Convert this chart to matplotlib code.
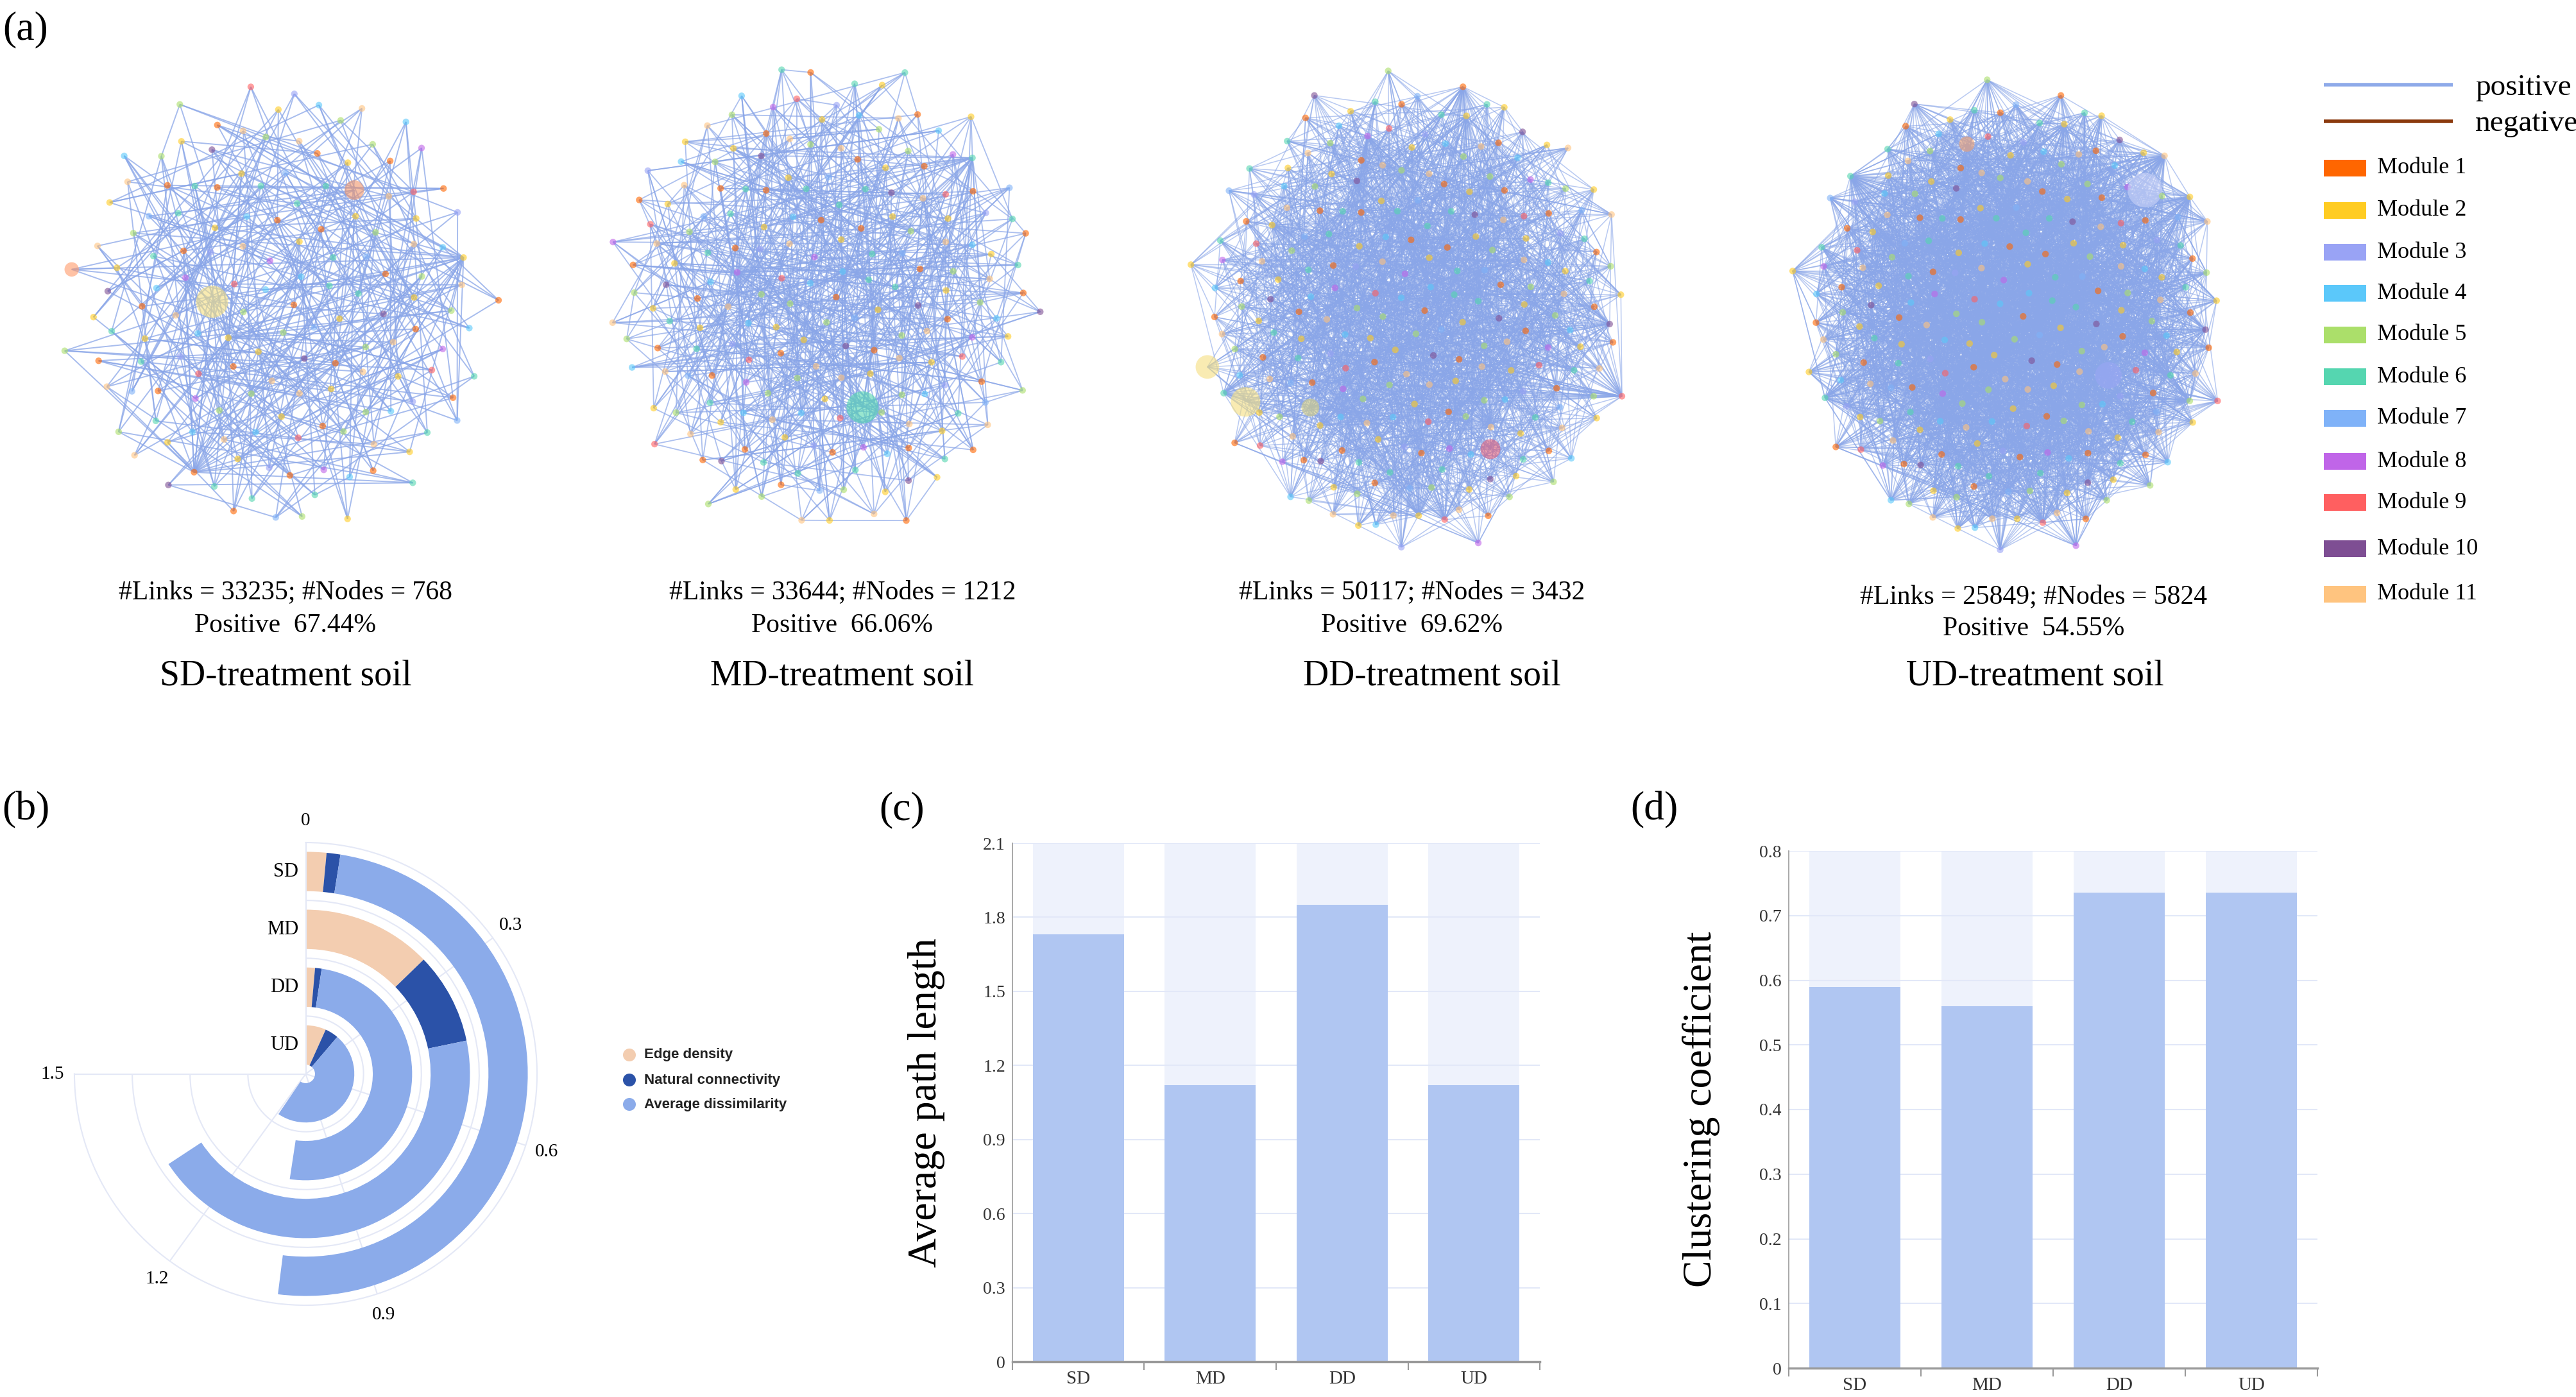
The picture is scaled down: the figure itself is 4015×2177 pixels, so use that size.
import numpy as np
import matplotlib.pyplot as plt
from matplotlib.collections import LineCollection
from matplotlib.patches import Rectangle, Circle

W, H = 4016, 2177
plt.rcParams['font.family'] = ['Liberation Serif', 'DejaVu Serif']

# ---- data ----
treatments = ['SD', 'MD', 'DD', 'UD']
n_links = [33235, 33644, 50117, 25849]
n_nodes = [768, 1212, 3432, 5824]
positive_pct = [67.44, 66.06, 69.62, 54.55]

edge_density = [0.03, 0.255, 0.028, 0.135]
natural_conn = [0.02, 0.18, 0.02, 0.09]
avg_dissim = [0.99, 0.88, 1.0, 0.965]
theta_ticks = [0, 0.3, 0.6, 0.9, 1.2, 1.5]

path_length = [1.73, 1.12, 1.85, 1.12]
path_ticks = [0, 0.3, 0.6, 0.9, 1.2, 1.5, 1.8, 2.1]
clustering = [0.59, 0.56, 0.735, 0.735]
clust_ticks = [0, 0.1, 0.2, 0.3, 0.4, 0.5, 0.6, 0.7, 0.8]

module_names = ['Module %d' % k for k in range(1, 12)]
module_colors = ['#ff6600', '#ffcc22', '#99a3f5', '#5bc8fa', '#abdf6a', '#55d6b0',
                 '#7fb2f8', '#c065e8', '#ff5f60', '#7e4e93', '#ffc47f']
# order in which node colours repeat (mostly the lighter modules)
node_cycle = [0, 1, 10, 5, 4, 1, 0, 3, 5, 10, 2, 6, 1, 0, 4, 8, 5, 10, 7, 1, 0, 3, 9, 4]

EDGE = '#8aa6e8'
fig = plt.figure(figsize=(W / 100, H / 100), dpi=100)
fig.patch.set_facecolor('white')


def px_axes(x0, y0, x1, y1, **kw):
    return fig.add_axes([x0 / W, 1 - y1 / H, (x1 - x0) / W, (y1 - y0) / H], **kw)


# overlay for free text and legends, in pixel coordinates
ov = px_axes(0, 0, W, H)
ov.set_xlim(0, W)
ov.set_ylim(H, 0)
ov.axis('off')

# ---- (a) networks: decorative layout, deterministic ----
net_boxes = [(438, 475, 346, 373), (1285, 463, 356, 382),
             (2204, 484, 355, 386), (3137, 493, 350, 381)]
net_style = [
    dict(n=150, mults=[(37, 5), (61, 11)], hubs=[(12, 7, 22), (96, 13, 18), (131, 9, 16)],
         lw=1.4, alpha=0.75, big=[(17, 1300, '#f5df80'), (58, 480, '#f0956a'), (140, 260, '#ff9a6a')]),
    dict(n=190, mults=[(37, 5), (61, 11), (89, 3)], hubs=[(30, 11, 20), (160, 7, 20)],
         lw=1.3, alpha=0.7, big=[(44, 1300, '#55d6b0')]),
    dict(n=230, mults=[(37, 5), (61, 11), (89, 3), (23, 17), (101, 29), (53, 2), (71, 19)],
         hubs=[(210, 9, 30), (180, 13, 30), (150, 7, 30), (225, 17, 30)],
         lw=1.1, alpha=0.6, big=[(190, 1100, '#f5df80'), (203, 700, '#f5df80'),
                                 (120, 500, '#e0607a'), (88, 400, '#d8d080')]),
    dict(n=230, mults=[(37, 5), (61, 11), (89, 3), (23, 17), (101, 29), (53, 2), (71, 19),
                       (43, 7), (67, 13), (97, 23), (29, 31), (83, 37)],
         hubs=[(200, 9, 40), (215, 13, 40), (170, 7, 40), (228, 11, 40)],
         lw=1.1, alpha=0.6, big=[(160, 1500, '#c9d2f8'), (60, 900, '#9aa6f5'), (150, 300, '#f0a070')]),
]

ga = np.pi * (3 - np.sqrt(5))
for (cx, cy, rx, ry), st in zip(net_boxes, net_style):
    ax = px_axes(cx - rx, cy - ry, cx + rx, cy + ry)
    n = st['n']
    i = np.arange(n)
    r = np.sqrt((i + 0.5) / n) * (0.95 + 0.05 * np.cos(i * 1.7))
    th = i * ga
    x, y = r * np.cos(th), r * np.sin(th)
    segs = []
    for a, b in st['mults']:
        j = (a * i + b) % n
        for p, q in zip(i, j):
            if p != q:
                segs.append([(x[p], y[p]), (x[q], y[q])])
    for h, step, deg in st['hubs']:
        for k in range(1, deg + 1):
            q = (h + k * step) % n
            segs.append([(x[h], y[h]), (x[q], y[q])])
    ax.add_collection(LineCollection(segs, colors=EDGE, linewidths=st['lw'], alpha=st['alpha']))
    cols = [module_colors[node_cycle[(k * 7) % len(node_cycle)]] for k in i]
    sizes = np.full(n, 55.0)
    for idx, s, c in st['big']:
        sizes[idx] = s
        cols[idx] = c
    ax.scatter(x, y, s=sizes, c=cols, alpha=0.6, edgecolors='none', zorder=3, clip_on=False)
    ax.set_xlim(-1.0, 1.0)
    ax.set_ylim(-1.0, 1.0)
    ax.axis('off')

caption_x = [445, 1313, 2201, 3170]
caption_y = [(923, 975), (923, 975), (923, 975), (930, 980)]
title_x = [445, 1313, 2232, 3172]
for k, t in enumerate(treatments):
    ov.text(caption_x[k], caption_y[k][0], '#Links = %d; #Nodes = %d' % (n_links[k], n_nodes[k]),
            fontsize=30, ha='center', va='center')
    ov.text(caption_x[k], caption_y[k][1], 'Positive  %.2f%%' % positive_pct[k],
            fontsize=30, ha='center', va='center')
    ov.text(title_x[k], 1053, '%s-treatment soil' % t, fontsize=40, ha='center', va='center')

# legend for (a)
ov.plot([3622, 3823], [132, 132], color='#8eaae9', lw=4, solid_capstyle='butt')
ov.plot([3622, 3823], [189, 189], color='#8b3a0e', lw=4, solid_capstyle='butt')
ov.text(3858, 137, 'positive', fontsize=34, va='center', ha='left')
ov.text(3858, 193, 'negative', fontsize=34, va='center', ha='left')
module_y = [262, 328, 393, 457, 522, 587, 652, 719, 783, 855, 926]
for yy, name, col in zip(module_y, module_names, module_colors):
    ov.add_patch(Rectangle((3622, yy - 13), 66, 26, color=col, lw=0))
    ov.text(3705, yy, name, fontsize=26, va='center', ha='left')

# panel labels
for lab, (lx, ly) in zip(['(a)', '(b)', '(c)', '(d)'],
                         [(40, 46), (40, 1262), (1406, 1262), (2578, 1262)]):
    ov.text(lx, ly, lab, fontsize=46, ha='center', va='center')

# ---- (b) radial stacked bar ----
pc, pr = (480, 1677), 364
axp = px_axes(pc[0] - pr, pc[1] - pr, pc[0] + pr, pc[1] + pr, projection='polar')
axp.set_theta_zero_location('N')
axp.set_theta_direction(-1)
axp.set_thetalim(0, 1.5 * np.pi)
axp.set_rlim(0, 4)
ring_r = [3.5, 2.5, 1.5, 0.5]
seg_colors = ['#f3cdb0', '#2b52a8', '#8babea']
for k in range(4):
    start = 0.0
    for vals, col in zip([edge_density, natural_conn, avg_dissim], seg_colors):
        axp.bar(start * np.pi, 0.68, width=vals[k] * np.pi, bottom=ring_r[k] - 0.34,
                align='edge', color=col, lw=0, zorder=2)
        start += vals[k]
    axp.annotate(treatments[k], (0, ring_r[k]), xytext=(-8, 0), textcoords='offset points',
                 ha='right', va='center', fontsize=22)
axp.set_xticks(np.array(theta_ticks) * np.pi)
axp.set_xticklabels([str(v) for v in theta_ticks], fontsize=21)
axp.set_yticks([1, 2, 3])
axp.set_yticklabels([])
axp.tick_params(axis='x', pad=14)
axp.grid(color='#e4e8f6', lw=1.5)
for sp in axp.spines.values():
    sp.set_color('#e4e8f6')
    sp.set_linewidth(1.5)

leg_labels = ['Edge density', 'Natural connectivity', 'Average dissimilarity']
for yy, lab, col in zip([1644, 1683, 1721], leg_labels, seg_colors):
    ov.add_patch(Circle((981, yy), 10, color=col, lw=0))
    ov.text(1004, yy, lab, fontsize=16, fontweight='bold', family=['Liberation Sans', 'DejaVu Sans'],
            va='center', ha='left', color='#222222')


# ---- (c), (d) bar panels ----
def bar_panel(box, vals, ticks, ylabel, label_x):
    ax = px_axes(*box)
    x = np.arange(len(treatments))
    ymax = ticks[-1]
    ax.bar(x, [ymax] * len(x), width=0.69, color='#eef2fc', zorder=1)
    for t in ticks[1:]:
        ax.axhline(t, color='#e2e8f8', lw=1.5, zorder=1.5)
    ax.bar(x, vals, width=0.69, color='#b0c6f2', zorder=2)
    ax.set_xlim(-0.5, len(x) - 0.5)
    ax.set_ylim(0, ymax)
    ax.set_yticks(ticks)
    ax.set_yticklabels([('%g' % t) for t in ticks], fontsize=20, color='#333333')
    ax.tick_params(axis='y', length=0, pad=8)
    ax.set_xticks(np.arange(-0.5, len(x)))
    ax.set_xticklabels([])
    ax.tick_params(axis='x', which='major', length=9, width=1.5, color='#9a9a9a')
    ax.set_xticks(x, minor=True)
    ax.set_xticklabels(treatments, minor=True, fontsize=21, color='#333333')
    ax.tick_params(axis='x', which='minor', length=0, pad=10)
    for s in ['top', 'right']:
        ax.spines[s].set_visible(False)
    ax.spines['left'].set_color('#9a9a9a')
    ax.spines['left'].set_linewidth(1.2)
    ax.spines['bottom'].set_color('#9a9a9a')
    ax.spines['bottom'].set_linewidth(2.5)
    ax.set_facecolor('white')
    ax.set_ylabel(ylabel, fontsize=46)
    ax.yaxis.set_label_coords(label_x, 0.5)
    return ax


bar_panel((1578, 1314, 2400, 2122), path_length, path_ticks, 'Average path length', -0.128)
bar_panel((2788, 1326, 3612, 2132), clustering, clust_ticks, 'Clustering coefficient', -0.13)

fig.savefig('out.png', dpi=100, facecolor='white')
